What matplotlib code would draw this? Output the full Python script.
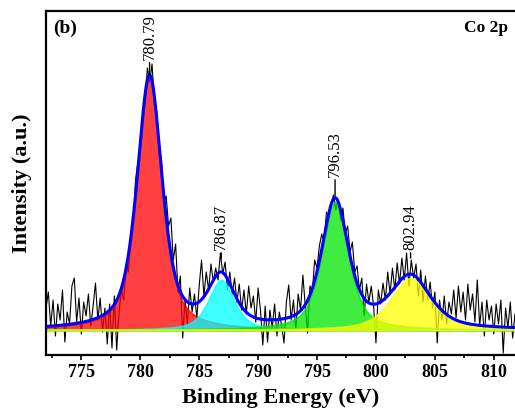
import matplotlib.pyplot as plt
import numpy as np
from matplotlib.ticker import MultipleLocator

plt.rcParams['font.family'] = ['Liberation Serif', 'DejaVu Serif']

# Raw Co 2p spectrum, 0.2 eV step starting at 772.0 eV (counts above baseline, a.u.)
e_start, e_step = 772.0, 0.2
counts = [
    22, 38, 4, 30, -6, 26, 10, 40, -12, 18,
    6, 44, 52, 8, 32, -4, 28, 14, 36, 4,
    24, 47, 10, 32, -2, 22, -14, 26, -18, 34,
    -20, 18, 40, 30, 66, 58, 96, 104, 150, 168,
    178, 214, 226, 262, 248, 266, 228, 218, 182, 170,
    128, 134, 104, 112, 70, 86, 38, 54, -8, 30,
    6, 42, 18, 36, 12, 44, 70, 34, 58, 40,
    66, 48, 62, 50, 77, 56, 68, 40, 58, 36,
    52, 28, 46, 20, 40, 16, 44, 22, 34, 8,
    42, 20, -15, 24, -12, 20, 2, 26, -6, 18,
    4, -13, 28, 45, 10, 30, 0, 36, 20, 55,
    24, -3, 44, 38, 70, 62, 84, 96, 88, 118,
    112, 126, 135, 120, 130, 110, 122, 96, 104, 78,
    88, 58, 64, 40, 52, 14, 46, 28, 44, 24,
    -13, 40, 26, 47, 30, 58, 36, 62, 40, 67,
    46, 72, 50, 77, 44, 70, 52, 66, 34, 60,
    28, 54, 30, 48, 22, 38, -13, 30, 10, 34,
    6, 28, 16, 40, 12, 44, 18, 38, 10, 46,
    20, 36, 8, 50, 4, 28, -6, 30, 10, 24,
    -4, 26, 6, 30, -23, 22, 2, 28, -8, 16,
]

# Fitted components (pseudo-Voigt, 60 % Lorentzian)
peak_labels = ['780.79', '786.87', '796.53', '802.94']
centers = [780.79, 786.87, 796.53, 802.94]
heights = [253, 50, 128, 52]
fwhms = [2.5, 2.6, 2.7, 4.0]
fill_colors = ['#ff0000', '#00ffff', '#00e600', '#ffff00']
# where each rotated label starts and the top of its leader line
label_bottoms = [270, 80, 153, 80]
leader_tops = [255, 72, 134, 72]

energy = e_start + e_step * np.arange(len(counts))


def pseudo_voigt(x, c, h, w, eta=0.6):
    lor = 1.0 / (1.0 + (2.0 * (x - c) / w) ** 2)
    gau = np.exp(-4.0 * np.log(2) * ((x - c) / w) ** 2)
    return h * (eta * lor + (1 - eta) * gau)


xf = np.linspace(772, 812, 1200)
comps = [pseudo_voigt(xf, c, h, w) for c, h, w in zip(centers, heights, fwhms)]
envelope = np.sum(comps, axis=0)

fig = plt.figure(figsize=(5.15, 4.13), dpi=100)
ax = fig.add_axes([0.0893, 0.1404, 0.9107, 0.833])

ax.plot(energy, counts, color='black', lw=0.8, zorder=1)
for comp, col in zip(comps, fill_colors):
    ax.fill_between(xf, 0, comp, facecolor=col, edgecolor=col, alpha=0.75, lw=1.2, zorder=2)
ax.plot(xf, envelope, color='#0000ff', lw=2.2, zorder=3)

for lab, c, yb, yt in zip(peak_labels, centers, label_bottoms, leader_tops):
    ax.annotate(lab, xy=(c, yt), xytext=(c, yb), rotation=90, ha='center', va='bottom',
                fontsize=12, arrowprops=dict(arrowstyle='-', lw=1.0, color='black',
                                             shrinkA=0, shrinkB=0))

ax.text(0.015, 0.975, '(b)', transform=ax.transAxes, fontsize=14, fontweight='bold',
        ha='left', va='top')
ax.text(0.985, 0.975, 'Co 2p', transform=ax.transAxes, fontsize=12.5, fontweight='bold',
        ha='right', va='top')

ax.set_xlim(772, 811.8)
ax.set_ylim(-25, 319)
ax.xaxis.set_major_locator(MultipleLocator(5))
ax.xaxis.set_minor_locator(MultipleLocator(2.5))
ax.set_yticks([])
ax.tick_params(axis='x', which='major', direction='out', length=3.5, width=1.2,
               labelsize=13, pad=3)
ax.tick_params(axis='x', which='minor', direction='out', length=2.5, width=1.2)
for lbl in ax.get_xticklabels():
    lbl.set_fontweight('bold')
for side in ['left', 'bottom', 'top']:
    ax.spines[side].set_linewidth(1.6)
ax.spines['right'].set_visible(False)

ax.set_xlabel('Binding Energy (eV)', fontsize=16, fontweight='bold', labelpad=5)
ax.set_ylabel('Intensity (a.u.)', fontsize=16, fontweight='bold', labelpad=10)

fig.savefig('out.png', dpi=100)
